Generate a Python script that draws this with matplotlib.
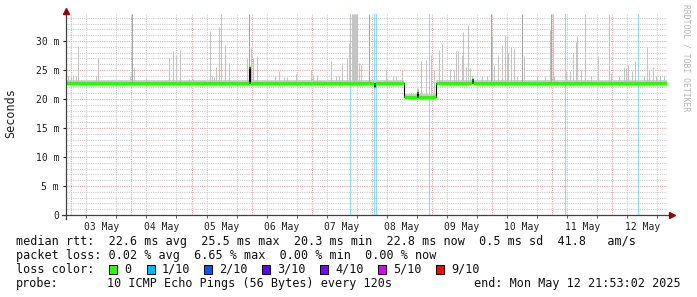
import matplotlib
matplotlib.use('Agg')
import matplotlib.pyplot as plt
from matplotlib.patches import Rectangle
import numpy as np

# time axis: hours since 03 May 00:00, window ends Mon May 12 21:53
t_start, t_end = -2.12, 237.88
day_labels = ['03 May', '04 May', '05 May', '06 May', '07 May',
              '08 May', '09 May', '10 May', '11 May', '12 May']

# median rtt (ms) as steps, loss level index per step
median_start = [-2.12, 71.0, 71.3, 121.0, 121.4, 132.8, 138.2, 138.6, 145.8, 159.9, 160.3]
median_end   = [71.0, 71.3, 121.0, 121.4, 132.8, 138.2, 138.6, 145.8, 159.9, 160.3, 237.88]
median_ms    = [22.7, 25.5, 22.7, 22.2, 22.7, 20.3, 21.2, 20.3, 22.7, 23.4, 22.7]
median_loss  = [0, 0, 0, 2, 0, 0, 0, 0, 0, 0, 0]

# smoke spikes (max rtt, ms)
smoke_hours = [-2.0, -1.2, 0.0, 0.8, 2.0, 2.5, 9.9, 10.5, 23.3, 24.4, 25.1, 30.0,
               39.2, 40.8, 41.7, 43.6, 46.8, 48.4, 55.3, 56.3, 57.1, 57.9, 58.8, 59.7,
               61.2, 62.8, 70.1, 71.1, 71.7, 72.5, 74.1, 81.3, 82.9, 84.8, 86.0, 89.7,
               95.7, 96.4, 98.0, 103.7, 105.6, 106.8, 107.9, 109.9, 110.8, 111.4,
               112.0, 112.4, 112.8, 113.2, 113.6, 114.0, 114.8, 115.5, 118.9,
               125.7, 128.4, 129.6, 131.9, 135.5, 138.4, 139.7, 141.7, 143.5, 144.8,
               146.8, 147.9, 151.2, 152.8, 153.7, 154.4, 155.9, 156.5, 157.5, 158.3,
               159.1, 164.0, 166.0, 167.5, 168.1, 168.8, 170.5, 172.1, 173.3, 173.9,
               174.5, 175.5, 176.8, 177.9, 179.9, 180.8, 186.0, 189.0, 191.2, 191.7,
               192.4, 192.8, 197.7, 199.2, 200.5, 201.5, 202.1, 203.7, 205.3, 207.5,
               210.5, 214.9, 215.5, 218.8, 220.9, 221.7, 222.5, 223.9, 225.1, 228.8,
               229.7, 230.8, 232.1, 233.5, 235.0, 236.5]
smoke_top = [24.5, 24.0, 23.8, 24.2, 24.0, 29.1, 24.0, 27.0, 24.0, 34.7, 25.4, 23.6,
             27.1, 28.3, 27.6, 28.5, 23.5, 23.4, 31.8, 24.0, 23.8, 25.6, 32.5, 34.7,
             29.4, 26.2, 27.1, 34.7, 28.8, 27.1, 27.4, 24.0, 24.8, 23.8, 23.8, 24.3,
             25.0, 24.2, 24.2, 26.5, 24.0, 24.0, 26.2, 27.1, 29.6, 34.7,
             34.7, 34.7, 34.7, 34.7, 34.7, 34.7, 26.2, 25.9, 34.7,
             25.0, 24.0, 24.0, 25.0, 21.0, 21.9, 26.5, 26.8, 27.6, 25.0,
             28.5, 29.5, 25.2, 25.0, 28.3, 28.2, 27.6, 31.6, 25.6, 32.8,
             25.4, 24.0, 24.0, 34.7, 30.8, 25.9, 27.6, 29.4, 31.1, 30.8,
             27.9, 28.9, 28.8, 24.0, 34.7, 27.4, 24.0, 24.0, 31.9, 34.7,
             34.7, 24.0, 24.8, 24.8, 27.9, 29.9, 30.8, 25.0, 34.7, 24.0,
             27.4, 34.7, 24.5, 24.0, 25.6, 25.4, 25.9, 24.8, 26.5, 24.0,
             28.9, 25.0, 25.6, 24.0, 24.0, 24.0]
smoke_dark = [24.4, 71.1, 118.9, 167.5, 179.9, 191.7]

# hours with packet loss (1/10)
loss_hours = [111.2, 120.9, 121.7, 143.0, 197.0, 226.3]

loss_labels = ['0', '1/10', '2/10', '3/10', '4/10', '5/10', '9/10']
loss_colors = ['#26ff00', '#00b8ff', '#0059ff', '#5e00ff', '#7e00ff', '#dd00ff', '#ff0000']

stat_lines = [
    'median rtt:  22.6 ms avg  25.5 ms max  20.3 ms min  22.8 ms now  0.5 ms sd  41.8   am/s',
    'packet loss: 0.02 % avg  6.65 % max  0.00 % min  0.00 % now',
]
probe_text = '10 ICMP Echo Pings (56 Bytes) every 120s'
end_text = 'end: Mon May 12 21:53:02 2025'

plt.rcParams['font.family'] = ['DejaVu Sans Mono']

W, H = 697, 297
fig = plt.figure(figsize=(W / 100, H / 100), dpi=100)
ax = fig.add_axes([66 / W, 1 - 215 / H, 601 / W, 201 / H])
ax.set_xlim(t_start, t_end)
ax.set_ylim(0, 34.66)


def median_at(h):
    for s, e, v in zip(median_start, median_end, median_ms):
        if s <= h < e:
            return v
    return median_ms[-1]


# grid
major_c, minor_c = '#e4a8a8', '#cccccc'
ax.set_yticks(np.arange(0, 31, 5))
ax.set_yticklabels(['0'] + ['%d m' % v for v in range(5, 31, 5)])
ax.set_yticks(np.arange(0, 35, 1), minor=True)
ax.set_xticks(np.arange(12, 240, 24))
ax.set_xticklabels(day_labels)
ax.set_xticks([h for h in range(0, 238, 6) if h % 24], minor=True)
ax.grid(which='minor', color=minor_c, linestyle=(0, (1, 1)), linewidth=0.8)
ax.grid(which='major', axis='y', color=major_c, linestyle=(0, (1, 1)), linewidth=0.8)
ax.xaxis.grid(False, which='major')
for d in range(0, 240, 24):
    ax.axvline(d, color=major_c, linestyle=(0, (1, 1)), linewidth=0.8, zorder=0.6)
ax.set_axisbelow(True)

# packet loss bars
for h in loss_hours:
    ax.axvline(h, color=loss_colors[1], alpha=0.45, linewidth=0.8, zorder=1)

# smoke
bases = [median_at(h) - 0.3 for h in smoke_hours]
shades = ['#a6a6a6' if h in smoke_dark else '#c4c4c4' for h in smoke_hours]
ax.vlines(smoke_hours, bases, smoke_top, colors=shades, linewidth=0.75, zorder=2)
ax.fill_between(np.ravel(list(zip(median_start, median_end))),
                np.repeat(median_ms, 2), np.repeat(median_ms, 2) + 0.55,
                color='#d0d0d0', linewidth=0, zorder=1.5)

# median line
xs = np.ravel(list(zip(median_start, median_end)))
ys = np.repeat(median_ms, 2)
ax.plot(xs, ys, color='black', linewidth=0.8, zorder=3)
ax.hlines(median_ms, median_start, median_end,
          colors=[loss_colors[l] for l in median_loss], linewidth=2.4, zorder=4)

# axes styling
for s in ['top', 'right', 'left', 'bottom']:
    ax.spines[s].set_visible(False)
axis_c = '#404040'
ax.plot([0, 0], [-0.02, 1.0], transform=ax.transAxes, color=axis_c, lw=0.9, clip_on=False, zorder=5)
ax.plot([-0.007, 1.007], [0, 0], transform=ax.transAxes, color=axis_c, lw=0.9, clip_on=False, zorder=5)
ax.plot([0], [1.015], transform=ax.transAxes, marker='^', color='#990000', markersize=4, clip_on=False, zorder=6)
ax.plot([1.009], [0], transform=ax.transAxes, marker='>', color='#990000', markersize=4, clip_on=False, zorder=6)

ax.tick_params(axis='x', which='major', length=0, pad=5, labelsize=7, colors='#202020')
ax.tick_params(axis='x', which='minor', length=2, color=axis_c)
ax.tick_params(axis='y', which='major', length=2, pad=3, labelsize=7, colors='#202020')
ax.tick_params(axis='y', which='minor', length=0)

fig.text(11 / W, 1 - 113 / H, 'Seconds', rotation=90, ha='center', va='center', fontsize=8.5, color='#202020')
fig.text(686 / W, 1 - 4 / H, 'RRDTOOL / TOBI OETIKER', rotation=270, ha='center', va='top',
         fontsize=5.8, color='#b4b4b4')

# legend / stats
fs = 8.5
fig.text(16 / W, 1 - 241 / H, stat_lines[0], fontsize=fs, va='center', color='#101010')
fig.text(16 / W, 1 - 255.5 / H, stat_lines[1], fontsize=fs, va='center', color='#101010')
fig.text(16 / W, 1 - 269.5 / H, 'loss color:', fontsize=fs, va='center', color='#101010')
sq_x = [109, 147, 204, 262, 320, 378, 436]
for x, lab, c in zip(sq_x, loss_labels, loss_colors):
    fig.patches.append(Rectangle((x / W, 1 - 274 / H), 8 / W, 9 / H, transform=fig.transFigure,
                                 facecolor=c, edgecolor='black', linewidth=0.7))
    fig.text((x + 15) / W, 1 - 269.5 / H, lab, fontsize=fs, va='center', color='#101010')
fig.text(16 / W, 1 - 284 / H, 'probe:', fontsize=fs, va='center', color='#101010')
fig.text(107 / W, 1 - 284 / H, probe_text, fontsize=fs, va='center', color='#101010')
fig.text(681 / W, 1 - 284 / H, end_text, fontsize=fs, va='center', ha='right', color='#101010')

fig.savefig('out.png', dpi=100, facecolor='white')
